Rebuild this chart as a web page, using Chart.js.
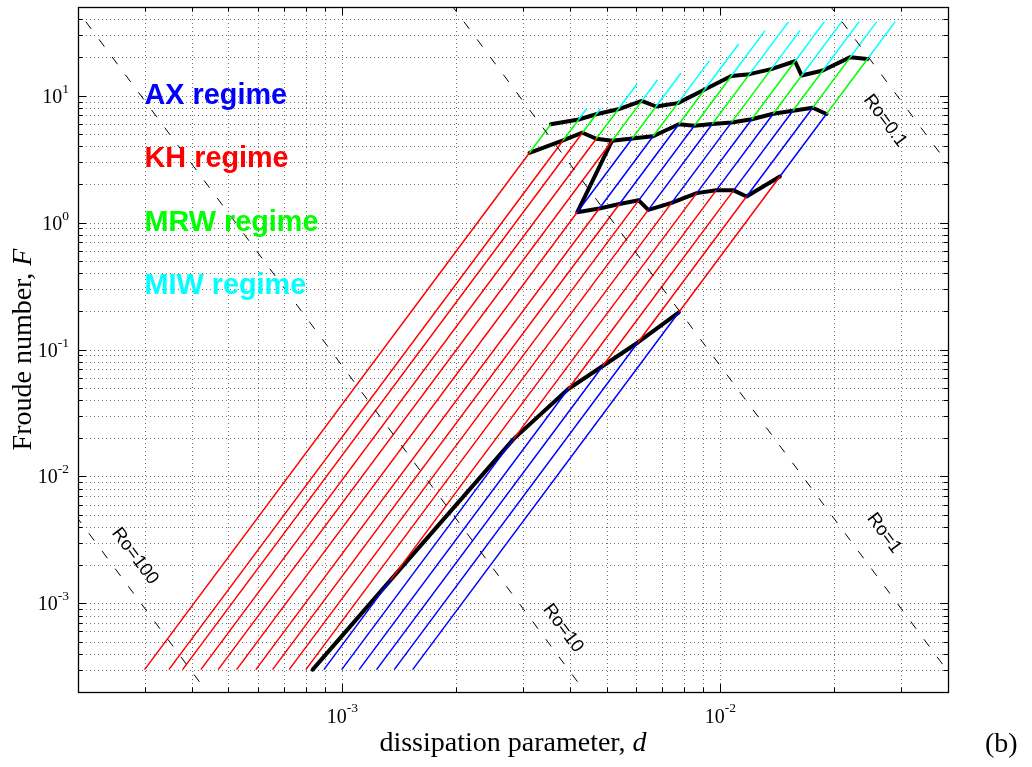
<!DOCTYPE html>
<html>
<head>
<meta charset="utf-8">
<title>Regime diagram</title>
<script src="https://cdn.jsdelivr.net/npm/chart.js@4.4.1/dist/chart.umd.min.js"></script>
<style>
  html, body { margin: 0; padding: 0; background: #fff; }
  canvas { display: block; }
</style>
</head>
<body>
<canvas id="regimeChart" width="1032" height="767"></canvas>
<script>
// axis ranges
const dRange = [2e-4, 4e-2];
const FRange = [2e-4, 50];

const xTickValues = [1e-3, 1e-2];
const xTickExponents = ['-3', '-2'];
const yTickValues = [1e-3, 1e-2, 1e-1, 1, 10];
const yTickExponents = ['-3', '-2', '-1', '0', '1'];

// each run series: d and F at both ends and wherever the regime changes
const hatchD = [
  [3.0e-4, 3.128e-3, 3.561e-3],
  [3.478e-4, 3.836e-3, 4.218e-3, 4.430e-3],
  [3.780e-4, 4.318e-3, 4.695e-3, 4.815e-3],
  [4.226e-4, 4.696e-3, 5.367e-3, 6.021e-3],
  [4.696e-4, 5.172e-3, 6.197e-3, 6.823e-3],
  [5.253e-4, 4.182e-3, 5.846e-3, 6.759e-3, 7.870e-3],
  [5.907e-4, 4.785e-3, 6.640e-3, 7.718e-3, 9.359e-3],
  [6.540e-4, 5.408e-3, 7.765e-3, 9.089e-3, 1.118e-2],
  [7.236e-4, 6.082e-3, 8.532e-3, 1.069e-2, 1.313e-2],
  [8.010e-4, 6.448e-3, 9.519e-3, 1.194e-2, 1.513e-2],
  [8.941e-4, 1.343e-3, 7.430e-3, 1.070e-2, 1.363e-2, 1.625e-2],
  [9.963e-4, 2.837e-3, 8.659e-3, 1.211e-2, 1.575e-2, 1.883e-2],
  [1.108e-3, 3.959e-3, 9.750e-3, 1.380e-2, 1.641e-2, 2.093e-2],
  [1.232e-3, 4.886e-3, 1.084e-2, 1.555e-2, 1.866e-2, 2.327e-2],
  [1.372e-3, 6.051e-3, 1.173e-2, 1.755e-2, 2.207e-2, 2.590e-2],
  [1.535e-3, 7.765e-3, 1.437e-2, 1.908e-2, 2.449e-2, 2.898e-2],
];
const hatchF = [
  [3e-4, 3.551, 5.96],
  [3e-4, 4.439, 6.49, 7.90],
  [3e-4, 5.107, 7.145, 7.90],
  [3e-4, 4.578, 7.81, 12.37],
  [3e-4, 4.416, 9.10, 13.37],
  [3e-4, 1.205, 4.604, 8.22, 15.11],
  [3e-4, 1.291, 4.791, 8.74, 18.89],
  [3e-4, 1.403, 5.96, 11.19, 25.58],
  [3e-4, 1.498, 5.80, 14.30, 32.56],
  [3e-4, 1.260, 5.98, 14.78, 38.15],
  [3e-4, 1.530e-3, 1.431, 6.16, 16.19, 32.74],
  [3e-4, 1.967e-2, 1.707, 6.52, 18.68, 38.15],
  [3e-4, 4.882e-2, 1.796, 7.21, 14.41, 38.15],
  [3e-4, 7.41e-2, 1.796, 7.62, 15.78, 38.15],
  [3e-4, 0.1136, 1.605, 8.04, 20.12, 38.15],
  [3e-4, 0.1965, 2.308, 7.17, 19.48, 38.15],
];
const hatchRegime = [
  ['KH', 'MRW'],
  ['KH', 'MRW', 'MIW'],
  ['KH', 'MRW', 'MIW'],
  ['KH', 'MRW', 'MIW'],
  ['KH', 'MRW', 'MIW'],
  ['KH', 'AX', 'MRW', 'MIW'],
  ['KH', 'AX', 'MRW', 'MIW'],
  ['KH', 'AX', 'MRW', 'MIW'],
  ['KH', 'AX', 'MRW', 'MIW'],
  ['KH', 'AX', 'MRW', 'MIW'],
  ['AX', 'KH', 'AX', 'MRW', 'MIW'],
  ['AX', 'KH', 'AX', 'MRW', 'MIW'],
  ['AX', 'KH', 'AX', 'MRW', 'MIW'],
  ['AX', 'KH', 'AX', 'MRW', 'MIW'],
  ['AX', 'KH', 'AX', 'MRW', 'MIW'],
  ['AX', 'KH', 'AX', 'MRW', 'MIW'],
];

// regime boundaries (thick black)
const axLowerD = [8.35e-4, 1.343e-3, 2.837e-3, 3.959e-3, 4.886e-3, 6.051e-3, 7.765e-3];
const axLowerF = [3e-4, 1.530e-3, 1.967e-2, 4.882e-2, 7.41e-2, 0.1136, 0.1965];
const khUpperD = [3.128e-3, 3.836e-3, 4.318e-3, 4.696e-3, 5.172e-3, 5.846e-3, 6.640e-3, 7.765e-3,
  8.532e-3, 9.519e-3, 1.070e-2, 1.211e-2, 1.380e-2, 1.555e-2, 1.755e-2, 1.908e-2];
const khUpperF = [3.551, 4.439, 5.107, 4.578, 4.416, 4.604, 4.791, 5.96,
  5.80, 5.98, 6.16, 6.52, 7.21, 7.62, 8.04, 7.17];
const axUpperD = [5.172e-3, 4.182e-3, 4.785e-3, 5.408e-3, 6.082e-3, 6.448e-3,
  7.430e-3, 8.659e-3, 9.750e-3, 1.084e-2, 1.173e-2, 1.437e-2];
const axUpperF = [4.416, 1.205, 1.291, 1.403, 1.498, 1.260, 1.431, 1.707, 1.796, 1.796, 1.605, 2.308];
const mrwUpperD = [3.561e-3, 4.218e-3, 4.695e-3, 5.367e-3, 6.197e-3, 6.759e-3, 7.718e-3, 9.089e-3,
  1.069e-2, 1.194e-2, 1.363e-2, 1.575e-2, 1.641e-2, 1.866e-2, 2.207e-2, 2.449e-2];
const mrwUpperF = [5.96, 6.49, 7.145, 7.81, 9.10, 8.22, 8.74, 11.19,
  14.30, 14.78, 16.19, 18.68, 14.41, 15.78, 20.12, 19.48];

// constant Rossby number lines, given at F = 100 and F = 1e-4
const roLabels = ['Ro=100', 'Ro=10', 'Ro=1', 'Ro=0.1'];
const roLineF = [100, 1e-4];
const roTopD = [1.65e-5, 1.65e-4, 1.65e-3, 1.65e-2];
const roBottomD = [5.22e-4, 5.22e-3, 5.22e-2, 5.22e-1];
const roLabelD = [2.829e-4, 3.836e-3, 2.710e-2, 2.726e-2];
const roLabelF = [2.349e-3, 6.35e-4, 3.566e-3, 6.35];

const regimeKeys = ['AX', 'KH', 'MRW', 'MIW'];
const regimeNames = ['AX regime', 'KH regime', 'MRW regime', 'MIW regime'];
const regimeLabelD = 3e-4;
const regimeLabelF = [10, 3.16, 1, 0.316];

const REGIME_COLOURS = { AX: '#0000ff', KH: '#ff0000', MRW: '#00ff00', MIW: '#00ffff' };
const SERIF = '"Liberation Serif", "Times New Roman", serif';
const SANS = '"Liberation Sans", Arial, sans-serif';

const datasets = [];

roTopD.forEach((d0, i) => {
  datasets.push({
    data: [{ x: d0, y: roLineF[0] }, { x: roBottomD[i], y: roLineF[1] }],
    borderColor: '#000',
    borderWidth: 1,
    borderDash: [9, 13],
  });
});

hatchD.forEach((ds, i) => {
  hatchRegime[i].forEach((reg, k) => {
    datasets.push({
      data: [{ x: ds[k], y: hatchF[i][k] }, { x: ds[k + 1], y: hatchF[i][k + 1] }],
      borderColor: REGIME_COLOURS[reg],
      borderWidth: 1.5,
    });
  });
});

[[axLowerD, axLowerF], [khUpperD, khUpperF], [axUpperD, axUpperF], [mrwUpperD, mrwUpperF]].forEach(([ds, fs]) => {
  datasets.push({
    data: ds.map((d, k) => ({ x: d, y: fs[k] })),
    borderColor: '#000',
    borderWidth: 4,
    borderJoinStyle: 'round',
    borderCapStyle: 'round',
  });
});

datasets.forEach((ds) => {
  ds.showLine = true;
  ds.pointRadius = 0;
  ds.fill = false;
});

function logTicks(min, max) {
  const out = [];
  for (let e = Math.floor(Math.log10(min)); e <= Math.ceil(Math.log10(max)); e++) {
    for (let s = 1; s <= 9; s++) {
      const v = s * Math.pow(10, e);
      if (v > min * 1.0001 && v < max * 0.9999) out.push({ v, major: s === 1 });
    }
  }
  return out;
}

function drawParts(ctx, parts, cx, baseline) {
  let total = 0;
  parts.forEach((p) => { ctx.font = p.font; p.w = ctx.measureText(p.text).width; total += p.w; });
  let xPos = cx - total / 2;
  ctx.textAlign = 'left';
  ctx.textBaseline = 'alphabetic';
  parts.forEach((p) => { ctx.font = p.font; ctx.fillText(p.text, xPos, baseline); xPos += p.w; });
}

const frame = {
  id: 'frame',
  beforeDatasetsDraw(chart) {
    const { ctx, chartArea: { left, right, top, bottom }, scales: { x, y } } = chart;
    ctx.save();
    ctx.strokeStyle = 'rgba(0, 0, 0, 0.55)';
    ctx.lineWidth = 1;
    ctx.setLineDash([1, 3]);
    logTicks(x.min, x.max).forEach((t) => {
      const px = Math.round(x.getPixelForValue(t.v)) + 0.5;
      ctx.beginPath();
      ctx.moveTo(px, bottom);
      ctx.lineTo(px, top);
      ctx.stroke();
    });
    logTicks(y.min, y.max).forEach((t) => {
      const py = Math.round(y.getPixelForValue(t.v)) + 0.5;
      ctx.beginPath();
      ctx.moveTo(left, py);
      ctx.lineTo(right, py);
      ctx.stroke();
    });
    ctx.restore();
  },
  afterDatasetsDraw(chart) {
    const { ctx, chartArea: { left, right, top, bottom }, scales: { x, y } } = chart;
    ctx.save();

    // tick marks on all four sides, pointing in
    ctx.strokeStyle = '#000';
    ctx.lineWidth = 1;
    ctx.setLineDash([]);
    logTicks(x.min, x.max).forEach((t) => {
      const px = Math.round(x.getPixelForValue(t.v)) + 0.5;
      const len = t.major ? 8 : 4.5;
      ctx.beginPath();
      ctx.moveTo(px, bottom); ctx.lineTo(px, bottom - len);
      ctx.moveTo(px, top); ctx.lineTo(px, top + len);
      ctx.stroke();
    });
    logTicks(y.min, y.max).forEach((t) => {
      const py = Math.round(y.getPixelForValue(t.v)) + 0.5;
      const len = t.major ? 8 : 4.5;
      ctx.beginPath();
      ctx.moveTo(left, py); ctx.lineTo(left + len, py);
      ctx.moveTo(right, py); ctx.lineTo(right - len, py);
      ctx.stroke();
    });
    ctx.lineWidth = 1.3;
    ctx.strokeRect(left + 0.5, top + 0.5, right - left, bottom - top);

    // regime names
    ctx.font = 'bold 28.8px ' + SANS;
    ctx.textAlign = 'left';
    ctx.textBaseline = 'middle';
    regimeNames.forEach((name, i) => {
      ctx.fillStyle = REGIME_COLOURS[regimeKeys[i]];
      ctx.fillText(name, x.getPixelForValue(regimeLabelD), y.getPixelForValue(regimeLabelF[i]));
    });

    // Ro labels, turned along their lines
    ctx.fillStyle = '#000';
    ctx.font = '18.5px ' + SANS;
    ctx.textAlign = 'center';
    roLabels.forEach((txt, i) => {
      const ang = Math.atan2(
        y.getPixelForValue(roLineF[1]) - y.getPixelForValue(roLineF[0]),
        x.getPixelForValue(roBottomD[i]) - x.getPixelForValue(roTopD[i])
      );
      ctx.save();
      ctx.translate(x.getPixelForValue(roLabelD[i]), y.getPixelForValue(roLabelF[i]));
      ctx.rotate(ang);
      ctx.fillText(txt, 0, 0);
      ctx.restore();
    });

    // tick labels 10^n
    const big = '20px ' + SERIF;
    const small = '13.5px ' + SERIF;
    ctx.textBaseline = 'alphabetic';
    ctx.textAlign = 'left';
    xTickValues.forEach((v, i) => {
      ctx.font = big;
      const w10 = ctx.measureText('10').width;
      ctx.font = small;
      const wExp = ctx.measureText(xTickExponents[i]).width;
      const x0 = x.getPixelForValue(v) - (w10 + wExp) / 2;
      ctx.font = big;
      ctx.fillText('10', x0, bottom + 31);
      ctx.font = small;
      ctx.fillText(xTickExponents[i], x0 + w10, bottom + 20);
    });
    yTickValues.forEach((v, i) => {
      const py = y.getPixelForValue(v);
      ctx.font = small;
      const wExp = ctx.measureText(yTickExponents[i]).width;
      const xEnd = left - 9;
      ctx.fillText(yTickExponents[i], xEnd - wExp, py - 3);
      ctx.font = big;
      const w10 = ctx.measureText('10').width;
      ctx.fillText('10', xEnd - wExp - w10, py + 7);
    });

    // axis titles
    drawParts(ctx, [
      { text: 'dissipation parameter, ', font: '28px ' + SERIF },
      { text: 'd', font: 'italic 28px ' + SERIF },
    ], (left + right) / 2, 751);

    ctx.save();
    ctx.translate(31, (top + bottom) / 2);
    ctx.rotate(-Math.PI / 2);
    drawParts(ctx, [
      { text: 'Froude number, ', font: '28px ' + SERIF },
      { text: 'F', font: 'italic 28px ' + SERIF },
    ], 0, 0);
    ctx.restore();

    ctx.font = '28px ' + SERIF;
    ctx.textAlign = 'left';
    ctx.fillText('(b)', 985, 752);

    ctx.restore();
  },
};

const regimeChart = new Chart(document.getElementById('regimeChart'), {
  type: 'scatter',
  data: { datasets },
  options: {
    responsive: false,
    devicePixelRatio: 1,
    animation: false,
    events: [],
    layout: {
      padding: { left: 78, right: 84, top: 7, bottom: 75 },
    },
    elements: {
      line: { tension: 0 },
    },
    plugins: {
      legend: { display: false },
      tooltip: { enabled: false },
    },
    scales: {
      x: { type: 'logarithmic', min: dRange[0], max: dRange[1], display: false },
      y: { type: 'logarithmic', min: FRange[0], max: FRange[1], display: false },
    },
  },
  plugins: [frame],
});
</script>
</body>
</html>
